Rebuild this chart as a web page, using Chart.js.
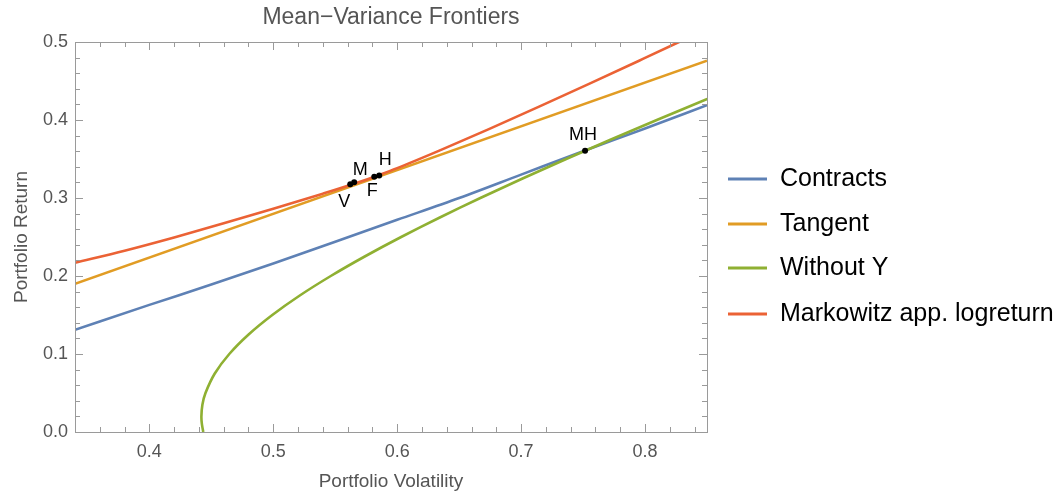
<!DOCTYPE html>
<html lang="en">
<head>
<meta charset="UTF-8">
<title>Mean-Variance Frontiers</title>
<script src="https://cdn.jsdelivr.net/npm/chart.js"></script>
<style>
  html, body { margin: 0; padding: 0; background: #fff; }
  #wrap { width: 1062px; height: 493px; }
</style>
</head>
<body>
<div id="wrap"><canvas id="chart" width="1062" height="493"></canvas></div>
<script>
// data (volatility, return)
const contractsVol = [0.34, 0.40, 0.45, 0.50, 0.55, 0.60, 0.65, 0.70, 0.75, 0.80, 0.85];
const contractsRet = [0.131, 0.163, 0.189, 0.216, 0.244, 0.272, 0.300, 0.330, 0.360, 0.389, 0.419];

const tangentVol = [0.34, 0.85];
const tangentRet = [0.190, 0.476];

const withoutYVol = [0.4435, 0.4424, 0.4420, 0.4428, 0.4453, 0.4528, 0.4645, 0.4801, 0.4992, 0.5214, 0.5464, 0.5738, 0.6032, 0.6344, 0.6671, 0.7012, 0.7364, 0.7725, 0.8095, 0.8502];
const withoutYRet = [0.000, 0.010, 0.020, 0.035, 0.050, 0.075, 0.100, 0.125, 0.150, 0.175, 0.200, 0.225, 0.250, 0.275, 0.300, 0.325, 0.350, 0.375, 0.400, 0.427];

const markowitzVol = [0.34, 0.38, 0.42, 0.46, 0.50, 0.54, 0.57, 0.5855, 0.60, 0.634, 0.674, 0.7145, 0.7548, 0.7952, 0.8274, 0.84];
const markowitzRet = [0.217, 0.2325, 0.2495, 0.2675, 0.2862, 0.3055, 0.3208, 0.3296, 0.3383, 0.3607, 0.3883, 0.4171, 0.4463, 0.476, 0.500, 0.5097];

const pointNames = ['V', 'M', 'F', 'H', 'MH'];
const pointVol = [0.5621, 0.5653, 0.5815, 0.5855, 0.7516];
const pointRet = [0.3176, 0.3201, 0.3273, 0.3290, 0.3606];

const xTicks = [0.4, 0.5, 0.6, 0.7, 0.8];
const yTicks = [0.0, 0.1, 0.2, 0.3, 0.4, 0.5];

function xy(xs, ys) {
    return xs.map((x, i) => ({x: x, y: ys[i]}));
}

const FONT = '"Liberation Sans", Arial, sans-serif';
const GREY = '#555555';
const FRAME = '#9a9a9a';

// label offsets for the marked portfolios (px from the dot)
const labelOffsets = {V: [-6, 18], M: [6, -12], F: [-2, 14], H: [6, -15], MH: [-2, -16]};

const pointLabels = {
    id: 'pointLabels',
    afterDatasetsDraw(chart) {
        const meta = chart.getDatasetMeta(4);
        const ctx = chart.ctx;
        ctx.save();
        ctx.fillStyle = '#000';
        ctx.font = '18px ' + FONT;
        ctx.textAlign = 'center';
        ctx.textBaseline = 'middle';
        meta.data.forEach((el, i) => {
            const off = labelOffsets[pointNames[i]];
            ctx.fillText(pointNames[i], el.x + off[0], el.y + off[1]);
        });
        ctx.restore();
    }
};

// mathematica style frame with inward ticks on all four sides
const frameTicks = {
    id: 'frameTicks',
    afterDatasetsDraw(chart) {
        const {ctx, chartArea: a, scales} = chart;
        ctx.save();
        ctx.strokeStyle = FRAME;
        ctx.lineWidth = 1;
        ctx.strokeRect(a.left + 0.5, a.top + 0.5, a.right - a.left, a.bottom - a.top);
        ctx.beginPath();
        for (let v = 0.36; v < 0.85; v += 0.02) {
            const major = Math.abs(v * 10 - Math.round(v * 10)) < 1e-6;
            const len = major ? 8 : 5;
            const px = Math.round(scales.x.getPixelForValue(v)) + 0.5;
            ctx.moveTo(px, a.bottom); ctx.lineTo(px, a.bottom - len);
            ctx.moveTo(px, a.top); ctx.lineTo(px, a.top + len);
        }
        for (let v = 0.02; v < 0.5; v += 0.02) {
            const major = Math.abs(v * 10 - Math.round(v * 10)) < 1e-6;
            const len = major ? 8 : 5;
            const py = Math.round(scales.y.getPixelForValue(v)) + 0.5;
            ctx.moveTo(a.left, py); ctx.lineTo(a.left + len, py);
            ctx.moveTo(a.right, py); ctx.lineTo(a.right - len, py);
        }
        ctx.stroke();
        ctx.restore();
    }
};

const sideLegend = {
    id: 'sideLegend',
    afterDraw(chart) {
        const ctx = chart.ctx;
        const rows = [179, 224, 268, 314];
        ctx.save();
        ctx.font = '25px ' + FONT;
        ctx.textBaseline = 'middle';
        ctx.textAlign = 'left';
        chart.data.datasets.slice(0, 4).forEach((ds, i) => {
            ctx.strokeStyle = ds.borderColor;
            ctx.lineWidth = 3;
            ctx.beginPath();
            ctx.moveTo(728, rows[i]);
            ctx.lineTo(767, rows[i]);
            ctx.stroke();
            ctx.fillStyle = '#000';
            ctx.fillText(ds.label, 780, rows[i]);
        });
        ctx.restore();
    }
};

const lineDefaults = {showLine: true, pointRadius: 0, borderWidth: 2.6, fill: false};

new Chart(document.getElementById('chart'), {
    type: 'scatter',
    data: {
        datasets: [
            Object.assign({label: 'Contracts', data: xy(contractsVol, contractsRet), borderColor: '#5e81b5', cubicInterpolationMode: 'monotone', order: 5}, lineDefaults),
            Object.assign({label: 'Tangent', data: xy(tangentVol, tangentRet), borderColor: '#e19c24', tension: 0, order: 4}, lineDefaults),
            Object.assign({label: 'Without Y', data: xy(withoutYVol, withoutYRet), borderColor: '#8fb032', tension: 0.2, order: 3}, lineDefaults),
            Object.assign({label: 'Markowitz app. logreturn', data: xy(markowitzVol, markowitzRet), borderColor: '#eb6235', cubicInterpolationMode: 'monotone', order: 2}, lineDefaults),
            {label: 'points', data: xy(pointVol, pointRet), showLine: false, pointRadius: 3, pointBackgroundColor: '#000', pointBorderWidth: 0, order: 1}
        ]
    },
    options: {
        responsive: false,
        animation: false,
        devicePixelRatio: 1,
        layout: {padding: {left: 10, right: 355, top: 0, bottom: 0}},
        plugins: {
            legend: {display: false},
            tooltip: {enabled: false},
            title: {
                display: true,
                text: 'Mean\u2212Variance Frontiers',
                fullSize: false,
                color: GREY,
                font: {family: FONT, size: 23, weight: 'normal'},
                padding: {top: 4, bottom: 10.4}
            }
        },
        scales: {
            x: {
                type: 'linear',
                min: 0.34, max: 0.85,
                afterFit(s) { s.height = 61; },
                afterBuildTicks(s) { s.ticks = xTicks.map(v => ({value: v})); },
                grid: {display: false, drawTicks: false},
                border: {display: false},
                ticks: {
                    autoSkip: false, maxRotation: 0, padding: 9,
                    color: GREY, font: {family: FONT, size: 18},
                    callback: v => v.toFixed(1)
                },
                title: {display: true, text: 'Portfolio Volatility', color: GREY, font: {family: FONT, size: 19}, padding: 0}
            },
            y: {
                type: 'linear',
                min: 0, max: 0.5,
                afterFit(s) { s.width = 65; },
                afterBuildTicks(s) { s.ticks = yTicks.map(v => ({value: v})); },
                grid: {display: false, drawTicks: false},
                border: {display: false},
                ticks: {
                    autoSkip: false, padding: 7,
                    color: GREY, font: {family: FONT, size: 18},
                    callback: v => v.toFixed(1)
                },
                title: {display: true, text: 'Portfolio Return', color: GREY, font: {family: FONT, size: 19}, padding: 0}
            }
        }
    },
    plugins: [frameTicks, pointLabels, sideLegend]
});
</script>
</body>
</html>
